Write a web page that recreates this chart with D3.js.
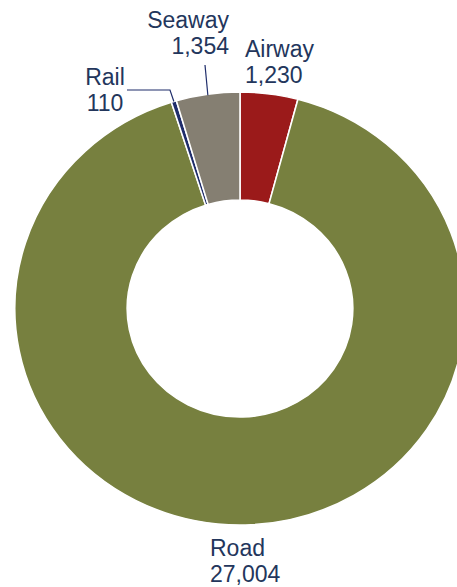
<!DOCTYPE html>
<html>
<head>
<meta charset="utf-8">
<script src="https://cdn.jsdelivr.net/npm/d3@7"></script>
<style>
  body { margin: 0; background: #fff; }
  svg { display: block; }
  .lbl { font-family: "Liberation Sans", Arial, sans-serif; font-size: 23px; fill: #23365c; }
</style>
</head>
<body>
<svg id="chart" width="457" height="587"></svg>
<script>
// chart data
var categories = ["Airway", "Road", "Rail", "Seaway"];
var values = [1230, 27004, 110, 1354];
var colors = ["#9b1a1a", "#77803f", "#1f2d6b", "#857f72"];

var width = 457, height = 587;
var cx = 240, cy = 308.5;
var outerR = 216.5, innerR = 108.5;
var xStretch = 1.04; // reference is slightly wider than tall

// label placement: [anchor x, first baseline, text-anchor]
var labelPos = {
  Airway: [245, 57, "start"],
  Road: [210, 556, "start"],
  Rail: [105, 85, "middle"],
  Seaway: [229, 28, "end"]
};

var svg = d3.select("#chart");
var fmt = d3.format(",d");

var pie = d3.pie().sort(null).value(function (d) { return d; });
var arcs = pie(values);
var arc = d3.arc().innerRadius(innerR).outerRadius(outerR);

var g = svg.append("g")
  .attr("transform", "translate(" + cx + "," + cy + ") scale(" + xStretch + ",1)");

g.selectAll("path.slice")
  .data(arcs)
  .enter().append("path")
  .attr("class", "slice")
  .attr("d", arc)
  .attr("fill", function (d, i) { return colors[i]; })
  .attr("stroke", "#fff")
  .attr("stroke-width", 1.5);

// point on the outer edge at the slice middle, page coords
function edgePoint(d) {
  var a = (d.startAngle + d.endAngle) / 2;
  return [cx + xStretch * outerR * Math.sin(a), cy - outerR * Math.cos(a)];
}

// leader lines for the two small slices on the left
var railEdge = edgePoint(arcs[2]);
svg.append("polyline")
  .attr("points", [[127, 90], [170, 90], railEdge].map(function (p) { return p.join(","); }).join(" "))
  .attr("fill", "none")
  .attr("stroke", "#1f2d6b")
  .attr("stroke-width", 1.2);

var seaEdge = edgePoint(arcs[3]);
svg.append("line")
  .attr("x1", 205).attr("y1", 65)
  .attr("x2", seaEdge[0]).attr("y2", seaEdge[1] + 1)
  .attr("stroke", "#1f2d6b")
  .attr("stroke-width", 1.2);

categories.forEach(function (c, i) {
  var p = labelPos[c];
  var t = svg.append("text")
    .attr("class", "lbl")
    .attr("text-anchor", p[2]);
  t.append("tspan").attr("x", p[0]).attr("y", p[1]).text(c);
  t.append("tspan").attr("x", p[0]).attr("y", p[1] + 26).text(fmt(values[i]));
});
</script>
</body>
</html>
